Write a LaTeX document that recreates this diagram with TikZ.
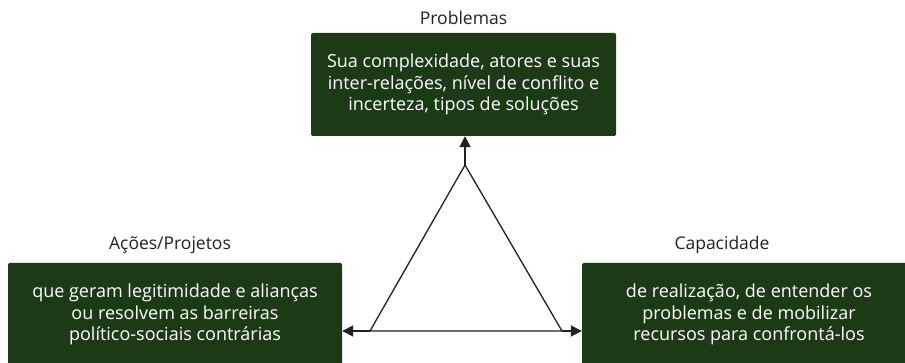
\documentclass[tikz,border=0pt]{standalone}
\usepackage{fontspec}
\setmainfont{Open Sans}
\usetikzlibrary{arrows.meta}
\definecolor{boxgreen}{RGB}{29,58,23}
\definecolor{txtgray}{RGB}{35,31,32}
\tikzset{
  gbox/.style={fill=boxgreen, rounded corners=1.5pt, text=white, align=center,
    minimum height=103pt, inner sep=0pt, font=\fontsize{18}{21.5}\selectfont},
  lbl/.style={text=txtgray, font=\fontsize{17.5}{20}\selectfont, inner sep=0pt},
  tri/.style={line width=1.3pt, draw=txtgray, line join=miter},
  conn/.style={line width=1.8pt, draw=txtgray, -{Triangle[length=11pt,width=11pt]}}
}
\begin{document}
\begin{tikzpicture}[x=1pt,y=-1pt]
\useasboundingbox (0,0) rectangle (905,363);
\clip (0,0) rectangle (905,363);
\node[gbox, minimum width=305pt] (top) at (463.5,84.5) {Sua complexidade, atores e suas\\inter-relações, nível de conflito e\\incerteza, tipos de soluções};
\node[gbox, minimum width=334pt] (left) at (175,314.5) {que geram legitimidade e alianças\\ou resolvem as barreiras\\político-sociais contrárias};
\node[gbox, minimum width=334pt] (right) at (749,314.5) {de realização, de entender os\\problemas e de mobilizar\\recursos para confrontá-los};
\node[lbl] (ltop) at (463.5,18) {Problemas};
\node[lbl] (lleft) at (170,245) {Ações/Projetos};
\node[lbl] (lright) at (722,245) {Capacidade};
\coordinate (apex) at (465,165);
\coordinate (bl) at (370,331);
\coordinate (br) at (562,331);
\draw[conn] (apex) -- (apex |- top.south);
\draw[conn] (bl) -- (bl -| left.east);
\draw[conn] (br) -- (br -| right.west);
\draw[tri] (apex) -- (bl) -- (br) -- cycle;
\end{tikzpicture}
\end{document}
